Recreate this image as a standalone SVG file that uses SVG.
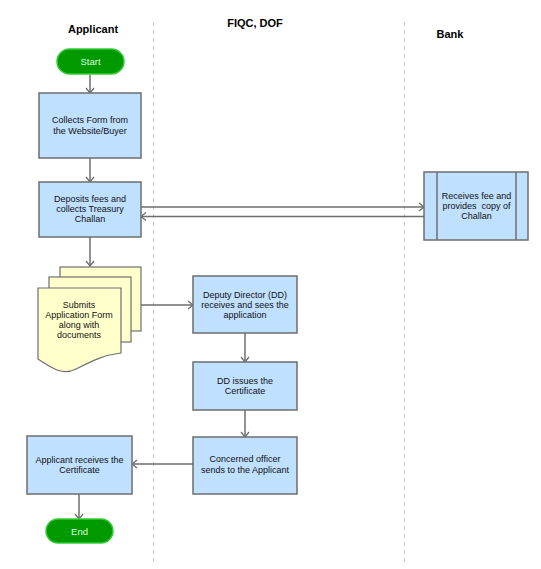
<svg xmlns="http://www.w3.org/2000/svg" width="541" height="569" viewBox="0 0 541 569">
<defs>
<style>
.lane{stroke:#c4c4d8;stroke-width:1;stroke-dasharray:4,4;fill:none}
.title{font-family:"Liberation Sans",Arial,sans-serif;font-size:11px;font-weight:bold;fill:#000;text-anchor:middle}
.box{fill:#c0e0ff;stroke:#6e6e6e;stroke-width:1.5}
.doc{fill:#ffffcc;stroke:#6e6e6e;stroke-width:1.2}
.term{fill:#009900;stroke:#33cc33;stroke-width:1.5}
.t{font-family:"Liberation Sans",Arial,sans-serif;font-size:9px;fill:#111;text-anchor:middle}
.tw{font-family:"Liberation Sans",Arial,sans-serif;font-size:9.5px;fill:#ddffdd;text-anchor:middle}
.c{stroke:#6e6e6e;stroke-width:1.5;fill:none;marker-end:url(#arr)}
</style>
<marker id="arr" markerWidth="10" markerHeight="10" refX="7" refY="5" orient="auto" markerUnits="userSpaceOnUse">
<path d="M2,1 L7,5 L2,9" fill="none" stroke="#6e6e6e" stroke-width="1.3"/>
</marker>
</defs>
<rect width="541" height="569" fill="#fff"/>
<g id="lanes">
<line class="lane" x1="153.500" y1="22" x2="153.500" y2="562"/>
<line class="lane" x1="404.500" y1="22" x2="404.500" y2="562"/>
<text class="title" x="93" y="33">Applicant</text>
<text class="title" x="255" y="27">FIQC, DOF</text>
<text class="title" x="450" y="38">Bank</text>
</g>
<g id="connectors">
<path class="c" d="M90,75 V93"/>
<path class="c" d="M90,158 V182"/>
<path class="c" d="M141,207 H424"/>
<path class="c" d="M424,216.500 H141"/>
<path class="c" d="M90,237 V266"/>
<path class="c" d="M141,305 H193"/>
<path class="c" d="M245,333 V362"/>
<path class="c" d="M245,410 V437"/>
<path class="c" d="M193,464 H132"/>
<path class="c" d="M79,494 V519"/>
</g>
<g id="start">
<rect class="term" x="57" y="49" width="67" height="25" rx="12.500"/>
<text class="tw" x="90.500" y="65">Start</text>
</g>
<g id="collects-form">
<rect class="box" x="39" y="93" width="102" height="65"/>
<text class="t" x="90" y="123">Collects Form from</text>
<text class="t" x="90" y="134">the Website/Buyer</text>
</g>
<g id="deposits-fees">
<rect class="box" x="39" y="182" width="102" height="55"/>
<text class="t" x="90" y="202">Deposits fees and</text>
<text class="t" x="90" y="212">collects Treasury</text>
<text class="t" x="90" y="222">Challan</text>
</g>
<g id="bank-receives">
<rect class="box" x="424" y="172" width="104" height="68"/>
<line x1="437" y1="172" x2="437" y2="240" stroke="#6e6e6e" stroke-width="1.5"/>
<line x1="516" y1="172" x2="516" y2="240" stroke="#6e6e6e" stroke-width="1.5"/>
<text class="t" x="476.500" y="199">Receives fee and</text>
<text class="t" x="476.500" y="209">provides&#160; copy of</text>
<text class="t" x="476.500" y="219">Challan</text>
</g>
<g id="submits-application">
<rect class="doc" x="60" y="267" width="81" height="64"/>
<rect class="doc" x="49" y="277" width="82" height="65"/>
<path class="doc" d="M38,288 H121 V353 C103,355 90,362 76,369 C62,376 52,368 38,359 Z"/>
<text class="t" x="79" y="308">Submits</text>
<text class="t" x="79" y="318">Application Form</text>
<text class="t" x="79" y="328">along with</text>
<text class="t" x="79" y="338">documents</text>
</g>
<g id="dd-receives">
<rect class="box" x="193" y="276" width="104" height="57"/>
<text class="t" x="245" y="298">Deputy Director (DD)</text>
<text class="t" x="245" y="308">receives and sees the</text>
<text class="t" x="245" y="318">application</text>
</g>
<g id="dd-issues">
<rect class="box" x="193" y="362" width="104" height="48"/>
<text class="t" x="245" y="384">DD issues the</text>
<text class="t" x="245" y="394">Certificate</text>
</g>
<g id="concerned-officer">
<rect class="box" x="193" y="437" width="104" height="57"/>
<text class="t" x="245" y="462">Concerned officer</text>
<text class="t" x="245" y="473">sends to the Applicant</text>
</g>
<g id="applicant-receives">
<rect class="box" x="27" y="436" width="105" height="58"/>
<text class="t" x="79.500" y="463">Applicant receives the</text>
<text class="t" x="79.500" y="473">Certificate</text>
</g>
<g id="end">
<rect class="term" x="46" y="519" width="67" height="24" rx="12"/>
<text class="tw" x="79.500" y="534.500">End</text>
</g>
</svg>
